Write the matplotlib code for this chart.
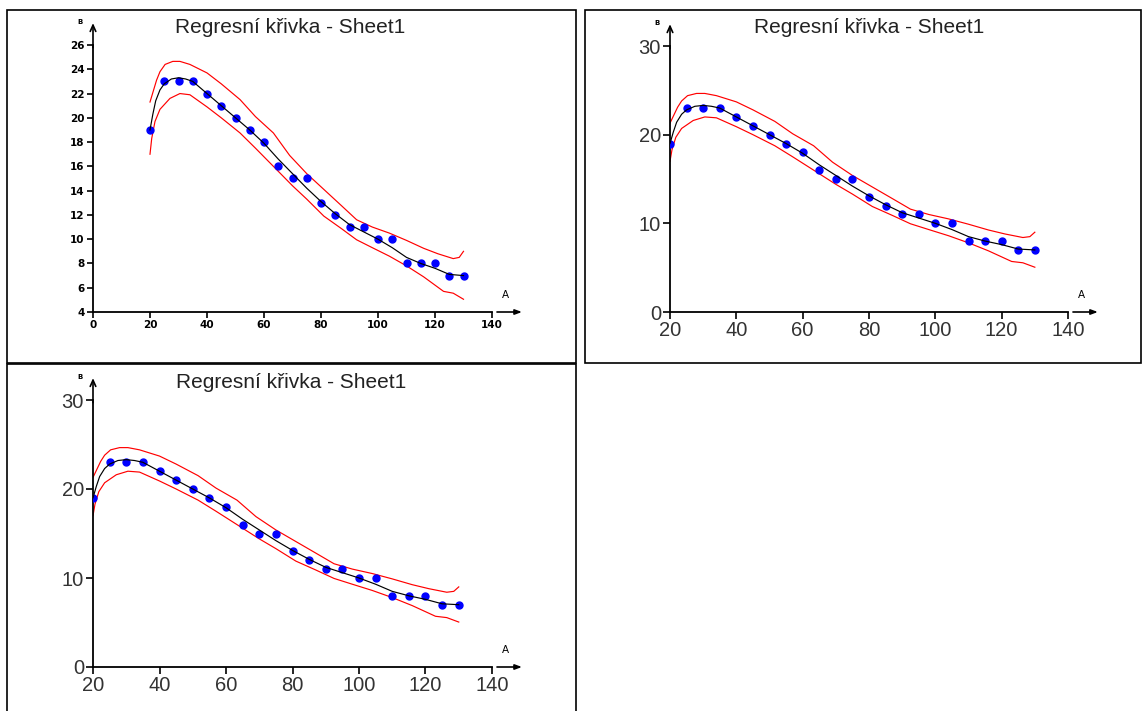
import numpy as np
import matplotlib
matplotlib.use('Agg')
import matplotlib.pyplot as plt
from matplotlib.patches import Rectangle

# naměřená data (body)
data_x = [20, 25, 30, 35, 40, 45, 50, 55, 60, 65, 70, 75,
          80, 85, 90, 95, 100, 105, 110, 115, 120, 125, 130]
data_y = [19, 23, 23, 23, 22, 21, 20, 19, 18, 16, 15, 15,
          13, 12, 11, 11, 10, 10, 8, 8, 8, 7, 7]

# regresni krivka
fit_x = [20, 21, 22, 23.5, 25, 27.5, 30, 32.5, 35, 40, 45, 50, 55, 60, 65,
         70, 75, 80, 85, 90, 95, 100, 105, 110, 115, 120, 125, 130]
fit_y = [19.0, 20.3, 21.4, 22.3, 22.8, 23.2, 23.3, 23.2, 23.0, 22.0, 21.0,
         20.0, 19.0, 17.9, 16.6, 15.4, 14.2, 13.1, 12.1, 11.2, 10.6, 10.0,
         9.3, 8.5, 8.0, 7.6, 7.1, 7.0]

# horni a dolni pas spolehlivosti
up_x = [20, 22.3, 23.5, 25.3, 28, 30.5, 34, 40, 45, 51.6, 57, 63.3, 69, 75,
        81, 87, 92.5, 98, 104, 110, 116, 121, 126.4, 128.5, 130]
up_y = [21.3, 23.1, 23.8, 24.4, 24.65, 24.65, 24.4, 23.7, 22.8, 21.5, 20.1,
        18.75, 16.9, 15.4, 14.1, 12.8, 11.6, 11.0, 10.5, 9.9, 9.25, 8.8, 8.4,
        8.5, 9.0]
lo_x = [20, 20.6, 21.75, 23.5, 27, 30.5, 34, 40, 45, 51.6, 57, 63.3, 70, 75,
        81, 87, 92.5, 98, 104, 110, 116, 123, 126.4, 130]
lo_y = [17.0, 18.3, 19.7, 20.7, 21.6, 22.0, 21.9, 20.9, 20.0, 18.75, 17.5,
        16.0, 14.4, 13.3, 11.9, 10.9, 9.95, 9.3, 8.6, 7.8, 6.9, 5.7, 5.55, 5.05]

title = 'Regresní křivka - Sheet1'

W, H = 1145, 711


def fx(px):
    return px / W


def fy(py):
    return 1 - py / H


fig = plt.figure(figsize=(W / 100, H / 100), dpi=100)

panels = [
    # box (l, t, r, b), axes (l, r, top, bottom), limity, ticky, styl
    dict(box=(7, 10, 576, 363), ax=(93, 492, 45, 312), xlim=(0, 140), ylim=(4, 26),
         xt=range(0, 141, 20), yt=range(4, 27, 2), title=(290, 33), small=True),
    dict(box=(585, 10, 1141, 363), ax=(670, 1068, 46, 312), xlim=(20, 140), ylim=(0, 30),
         xt=range(20, 141, 20), yt=range(0, 31, 10), title=(869, 33), small=False),
    dict(box=(7, 364, 576, 730), ax=(93, 492, 400, 667), xlim=(20, 140), ylim=(0, 30),
         xt=range(20, 141, 20), yt=range(0, 31, 10), title=(291, 388), small=False),
]

for p in panels:
    l, t, r, b = p['box']
    fig.add_artist(Rectangle((fx(l), fy(b)), (r - l) / W, (b - t) / H,
                             transform=fig.transFigure, fill=False,
                             ec='black', lw=1.2))

    al, ar, at, ab = p['ax']
    ax = fig.add_axes([fx(al), fy(ab), (ar - al) / W, (ab - at) / H])
    ax.set_facecolor('none')

    ax.plot(up_x, up_y, color='#ff0000', lw=0.85)
    ax.plot(lo_x, lo_y, color='#ff0000', lw=0.85)
    ax.plot(data_x, data_y, 'o', color='#0000ff', ms=5, mec='#0000ff', zorder=3)
    ax.plot(fit_x, fit_y, color='black', lw=0.85, zorder=4)

    ax.set_xlim(*p['xlim'])
    ax.set_ylim(*p['ylim'])
    ax.set_xticks(list(p['xt']))
    ax.set_yticks(list(p['yt']))
    for s in ['top', 'right']:
        ax.spines[s].set_visible(False)
    for s in ['left', 'bottom']:
        ax.spines[s].set_linewidth(1.3)

    if p['small']:
        ax.tick_params(length=4, width=1.2, labelsize=7.5, pad=2)
        for lab in ax.get_xticklabels() + ax.get_yticklabels():
            lab.set_fontweight('bold')
            lab.set_family('DejaVu Sans')
    else:
        ax.tick_params(length=5, width=1.2, labelsize=14.5, pad=1.5,
                       labelcolor='#333333')
        for lab in ax.get_xticklabels() + ax.get_yticklabels():
            lab.set_family('Liberation Sans')

    # sipky os
    ax.annotate('', xy=(0, 1.082), xytext=(0, 0.99), xycoords='axes fraction',
                arrowprops=dict(arrowstyle='->,head_length=0.45,head_width=0.2',
                                lw=1.2, color='black', shrinkA=0, shrinkB=0))
    ax.annotate('', xy=(1.075, 0), xytext=(1.0125, 0), xycoords='axes fraction',
                arrowprops=dict(arrowstyle='-|>,head_length=0.4,head_width=0.15',
                                lw=1.2, color='black', shrinkA=0, shrinkB=0))
    ax.text(1.035, 0.045, 'A', transform=ax.transAxes, fontsize=7.5,
            family='DejaVu Sans', ha='center', va='bottom')
    ax.text(-0.033, 1.086, 'B', transform=ax.transAxes, fontsize=5,
            family='DejaVu Sans', fontweight='bold', ha='center', va='center')

    tx, ty = p['title']
    fig.text(fx(tx), fy(ty), title, ha='center', va='baseline',
             fontsize=15, family='Liberation Sans', color='#222222')

fig.savefig('out.png', dpi=100)
